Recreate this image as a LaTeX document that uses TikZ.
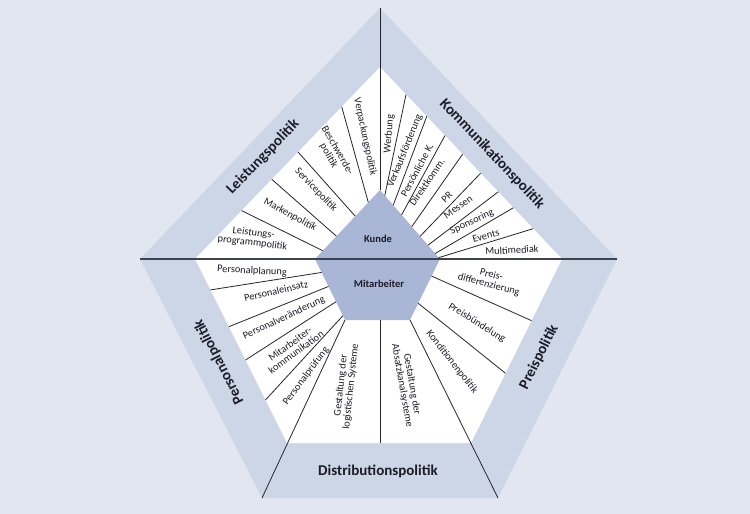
\documentclass[tikz,border=0pt]{standalone}
\usepackage{fontspec}
\setmainfont{Carlito}
\usetikzlibrary{calc}
\definecolor{bgc}{RGB}{225,230,241}
\definecolor{bandc}{RGB}{204,214,231}
\definecolor{corec}{RGB}{170,182,214}
\definecolor{txtc}{RGB}{28,28,40}
\definecolor{axisc}{RGB}{60,66,82}
\begin{document}
\begin{tikzpicture}[x=1pt,y=-1pt,
  sep/.style={draw=black!85, line width=0.8pt},
  axisline/.style={draw=axisc, line width=2pt},
  item/.style={font=\fontsize{10.3}{10}\selectfont, text=txtc, align=center, inner sep=0pt},
  bandlbl/.style={font=\bfseries\fontsize{15}{16}\selectfont, text=txtc, inner sep=0pt},
  corelbl/.style={font=\bfseries\fontsize{10.5}{11}\selectfont, text=txtc, inner sep=0pt}]
\fill[bgc] (0,0) rectangle (750,514);
\useasboundingbox (0,0) rectangle (750,514);
% outer pentagon
\coordinate (OT) at (380,8);
\coordinate (OL) at (140,259);
\coordinate (OBL) at (262,498);
\coordinate (OBR) at (498,498);
\coordinate (OR) at (617,259);
% inner white
\coordinate (IT) at (380,67);
\coordinate (IL) at (195,259);
\coordinate (IBL) at (287,443);
\coordinate (IBR) at (471,443);
\coordinate (IR) at (562,259);
% core
\coordinate (CT) at (380,190);
\coordinate (CL) at (315,259);
\coordinate (CBL) at (345,320);
\coordinate (CBR) at (410,320);
\coordinate (CR) at (440,259);
\coordinate (CB) at (380,320);
\coordinate (IB) at (380,443);

\fill[bandc] (OT) -- (OR) -- (OBR) -- (OBL) -- (OL) -- cycle;
\fill[white] (IT) -- (IR) -- (IBR) -- (IBL) -- (IL) -- cycle;
\fill[corec] (CT) -- (CR) -- (CBR) -- (CBL) -- (CL) -- cycle;

% main dividers
\draw[sep] (OT) -- (CT);
\draw[sep] (CBL) -- (OBL);
\draw[sep] (CBR) -- (OBR);
\draw[sep] (CB) -- (IB);
\draw[axisline] (OL) -- (OR);

% upper left separators
\foreach \t/\s in {0.207/0.18, 0.443/0.38, 0.585/0.67, 0.748/0.88}
  \draw[sep] ($(IT)!\t!(IL)$) -- ($(CT)!\s!(CL)$);
% upper right separators
\foreach \t/\s in {0.143/0.08, 0.257/0.22, 0.357/0.36, 0.454/0.53, 0.553/0.67, 0.650/0.80, 0.733/0.92, 0.842/0.98}
  \draw[sep] ($(IT)!\t!(IR)$) -- ($(CT)!\s!(CR)$);
% lower left separators
\foreach \t/\s in {0.168/0.22, 0.368/0.45, 0.549/0.7, 0.766/0.93}
  \draw[sep] ($(IL)!\t!(IBL)$) -- ($(CL)!\s!(CBL)$);
% lower right separators
\foreach \t/\s in {0.335/0.28, 0.621/0.726}
  \draw[sep] ($(IR)!\t!(IBR)$) -- ($(CR)!\s!(CBR)$);

% band labels
\node[bandlbl, rotate=46] (leis) at (263,157) {Leistungspolitik};
\node[bandlbl, rotate=-46.5] (komm) at (492,154) {Kommunikationspolitik};
\node[bandlbl, rotate=63.5] (preis) at (539,357) {Preispolitik};
\node[bandlbl, rotate=117] (pers) at (219,362) {Personalpolitik};
\node[bandlbl] (dist) at (378,471) {Distributionspolitik};

% core labels
\node[corelbl] (kunde) at (378,239) {Kunde};
\node[corelbl] (mita) at (379,284) {Mitarbeiter};

% upper left items
\node[item, rotate=-7] (lp) at (253,238) {Leistungs-\\programmpolitik};
\node[item, rotate=-28] (mp) at (290,215) {Markenpolitik};
\node[item, rotate=-46] (sp) at (316,190) {Servicepolitik};
\node[item, rotate=-60] (bp) at (333,153) {Beschwerde-\\politik};
\node[item, rotate=-78] (vp) at (365,137) {Verpackungspolitik};

% upper right items
\node[item, rotate=85] (wer) at (389,134) {Werbung};
\node[item, rotate=68] (vkf) at (405,151) {Verkaufsförderung};
\node[item, rotate=62] (pk) at (417,170) {Persönliche K.};
\node[item, rotate=55] (dk) at (427,182) {Direktkomm.};
\node[item, rotate=45] (pr) at (447,197) {PR};
\node[item, rotate=35] (mes) at (458,207) {Messen};
\node[item, rotate=25] (spo) at (472,222) {Sponsoring};
\node[item, rotate=15] (evt) at (486,236) {Events};
\node[item, rotate=3] (mm) at (512,250) {Multimediak};

% lower left items
\node[item, rotate=-3] (ppl) at (252,271) {Personalplanung};
\node[item, rotate=13] (pei) at (276,291) {Personaleinsatz};
\node[item, rotate=25] (pve) at (284,318) {Personalveränderung};
\node[item, rotate=36] (mk) at (293,348) {Mitarbeiter-\\kommunikation};
\node[item, rotate=53] (ppr) at (306,376) {Personalprüfung};
\node[item, rotate=84] (gls) at (346,386) {Gestaltung der\\logistischen Systeme};

% lower right items
\node[item, rotate=-15] (pd) at (490,280) {Preis-\\differenzierung};
\node[item, rotate=-32] (pb) at (477,323) {Preisbündelung};
\node[item, rotate=-52] (kp) at (452,362) {Konditionenpolitik};
\node[item, rotate=-80] (gas) at (407,385) {Gestaltung der\\Absatzkanalsysteme};
\end{tikzpicture}
\end{document}
